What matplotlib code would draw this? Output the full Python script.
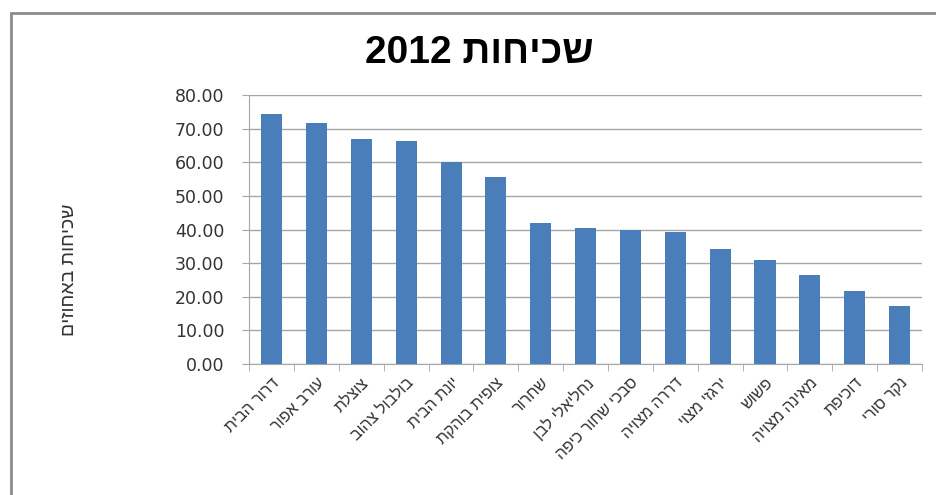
import matplotlib
matplotlib.use('Agg')
import matplotlib.pyplot as plt
from matplotlib.patches import Rectangle
from matplotlib.ticker import FixedLocator, FormatStrFormatter

# bird species and their frequency (percent) in 2012
species = ['דרור הבית', 'עורב אפור', 'צוצלת', 'בולבול צהוב', 'יונת הבית',
           'צופית בוהקת', 'שחרור', 'נחליאלי לבן', 'סבכי שחור כיפה',
           'דררה מצויה', 'ירגזי מצוי', 'פשוש', 'מאינה מצויה', 'דוכיפת', 'נקר סורי']
values = [74.5, 71.7, 67.0, 66.2, 60.2, 55.7, 42.0, 40.5, 39.8, 39.3,
          34.1, 30.8, 26.5, 21.8, 17.3]
title = 'שכיחות 2012'
ylabel = 'שכיחות באחוזים'


def vis(s):
    # matplotlib has no bidi support, so lay the hebrew out visually by hand
    words = s.split(' ')
    return ' '.join(w if w.isdigit() else w[::-1] for w in reversed(words))


plt.rcParams['font.family'] = ['Liberation Sans', 'DejaVu Sans']

fig = plt.figure(figsize=(9.37, 4.95), dpi=100)
fig.patches.append(Rectangle((11 / 937, -0.1), 1.2, 1 - 13 / 495 + 0.1,
                             transform=fig.transFigure, fill=False,
                             edgecolor='#8c8c8c', linewidth=2))

ax = fig.add_axes([0.266, 0.2646, 0.718, 0.5434])
x = range(len(species))
ax.bar(x, values, width=0.47, color='#4a7ebb', zorder=3)

ax.set_xlim(-0.5, len(species) - 0.5)
ax.set_ylim(0, 80)
ax.yaxis.set_major_locator(FixedLocator(range(0, 81, 10)))
ax.yaxis.set_major_formatter(FormatStrFormatter('%.2f'))
ax.grid(axis='y', color='#a6a6a6', linewidth=1, zorder=0)

ax.set_xticks(list(x))
ax.set_xticklabels([vis(s) for s in species], rotation=45, ha='right',
                   rotation_mode='anchor', fontsize=11.5, color='#333333')
ax.tick_params(axis='x', length=0, pad=8)
ax.set_xticks([i + 0.5 for i in range(-1, len(species))], minor=True)
ax.tick_params(axis='x', which='minor', length=5, color='#a6a6a6', direction='out')
ax.tick_params(axis='y', length=5, color='#a6a6a6', labelsize=12.5,
               labelcolor='#333333', pad=13)
for lbl in ax.get_yticklabels():
    lbl.set_family('DejaVu Sans')

for side in ['top', 'right']:
    ax.spines[side].set_visible(False)
for side in ['left', 'bottom']:
    ax.spines[side].set_color('#a6a6a6')

ax.set_ylabel(vis(ylabel), fontsize=14, color='#333333')
ax.yaxis.set_label_coords(-0.255, 0.35)
fig.text(0.512, 0.893, vis(title), fontsize=28, fontweight='bold',
         ha='center', va='center')

plt.savefig('out.png', dpi=100)
